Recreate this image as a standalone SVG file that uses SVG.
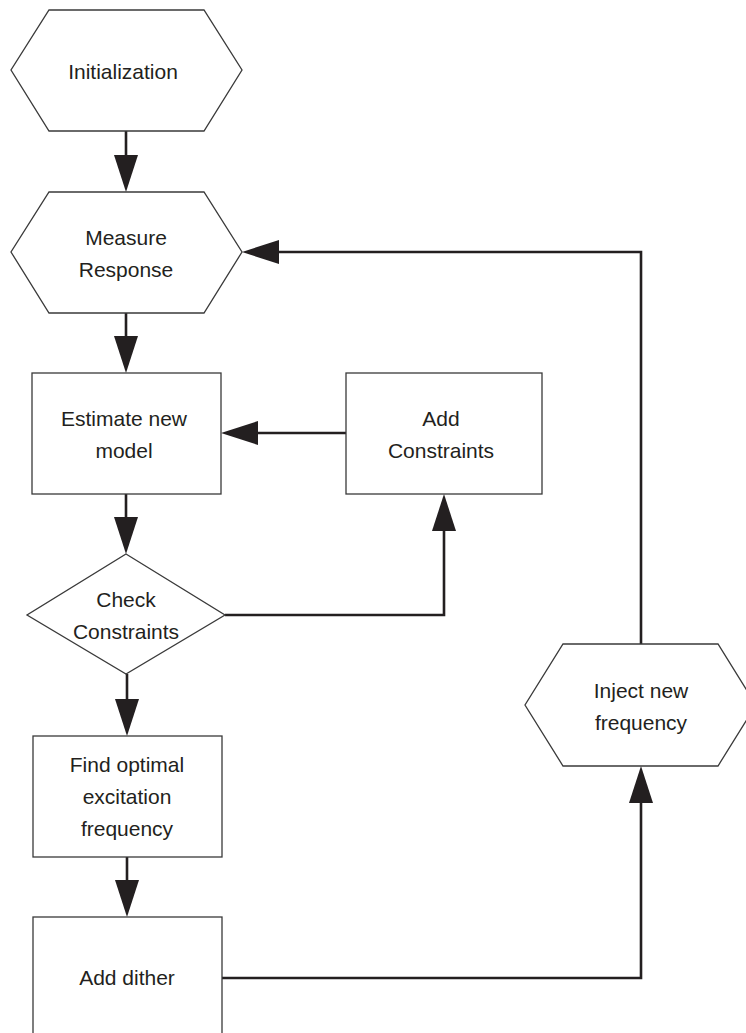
<svg xmlns="http://www.w3.org/2000/svg" width="746" height="1033" viewBox="0 0 746 1033">
<style>
.shape{fill:#ffffff;stroke:#3a3a3a;stroke-width:1.3}
.lbl{font-family:"Liberation Sans",Arial,sans-serif;font-size:21px;fill:#231f20;text-anchor:middle}
.conn{fill:none;stroke:#231f20;stroke-width:2.6;marker-end:url(#ah)}
</style>
<defs>
<marker id="ah" viewBox="0 0 37 24" refX="27" refY="12" markerWidth="37" markerHeight="24" markerUnits="userSpaceOnUse" orient="auto">
<path d="M0,0 L37,12 L0,24 Z" fill="#231f20"/>
</marker>
</defs>
<rect width="746" height="1033" fill="#ffffff"/>
<g id="connectors">
<path class="conn" d="M126,131 V182"/>
<path class="conn" d="M126,313 V363"/>
<path class="conn" d="M126,494 V544"/>
<path class="conn" d="M127,674 V726"/>
<path class="conn" d="M127,857 V907"/>
<path class="conn" d="M346,433 H231"/>
<path class="conn" d="M225,615 H444 V504"/>
<path class="conn" d="M222,978 H641 V776"/>
<path class="conn" d="M641,644 V252 H252"/>
</g>
<g id="init">
<polygon class="shape" points="49,10 204,10 242,70 204,131 49,131 11,70"/>
<text class="lbl" x="123" y="79">Initialization</text>
</g>
<g id="measure">
<polygon class="shape" points="49,192 204,192 242,252 204,313 49,313 11,252"/>
<text class="lbl" x="126" y="245">Measure</text>
<text class="lbl" x="126" y="277">Response</text>
</g>
<g id="estimate">
<rect class="shape" x="32" y="373" width="189" height="121"/>
<text class="lbl" x="124" y="426">Estimate new</text>
<text class="lbl" x="124" y="458">model</text>
</g>
<g id="addconstraints">
<rect class="shape" x="346" y="373" width="196" height="121"/>
<text class="lbl" x="441" y="426">Add</text>
<text class="lbl" x="441" y="458">Constraints</text>
</g>
<g id="check">
<polygon class="shape" points="126,554 225,615 126,674 27,615"/>
<text class="lbl" x="126" y="607">Check</text>
<text class="lbl" x="126" y="639">Constraints</text>
</g>
<g id="findopt">
<rect class="shape" x="33" y="736" width="189" height="121"/>
<text class="lbl" x="127" y="772">Find optimal</text>
<text class="lbl" x="127" y="804">excitation</text>
<text class="lbl" x="127" y="836">frequency</text>
</g>
<g id="dither">
<rect class="shape" x="33" y="917" width="189" height="130"/>
<text class="lbl" x="127" y="985">Add dither</text>
</g>
<g id="inject">
<polygon class="shape" points="563,644 718,644 756,705 718,766 563,766 525,705"/>
<text class="lbl" x="641" y="698">Inject new</text>
<text class="lbl" x="641" y="730">frequency</text>
</g>
</svg>
